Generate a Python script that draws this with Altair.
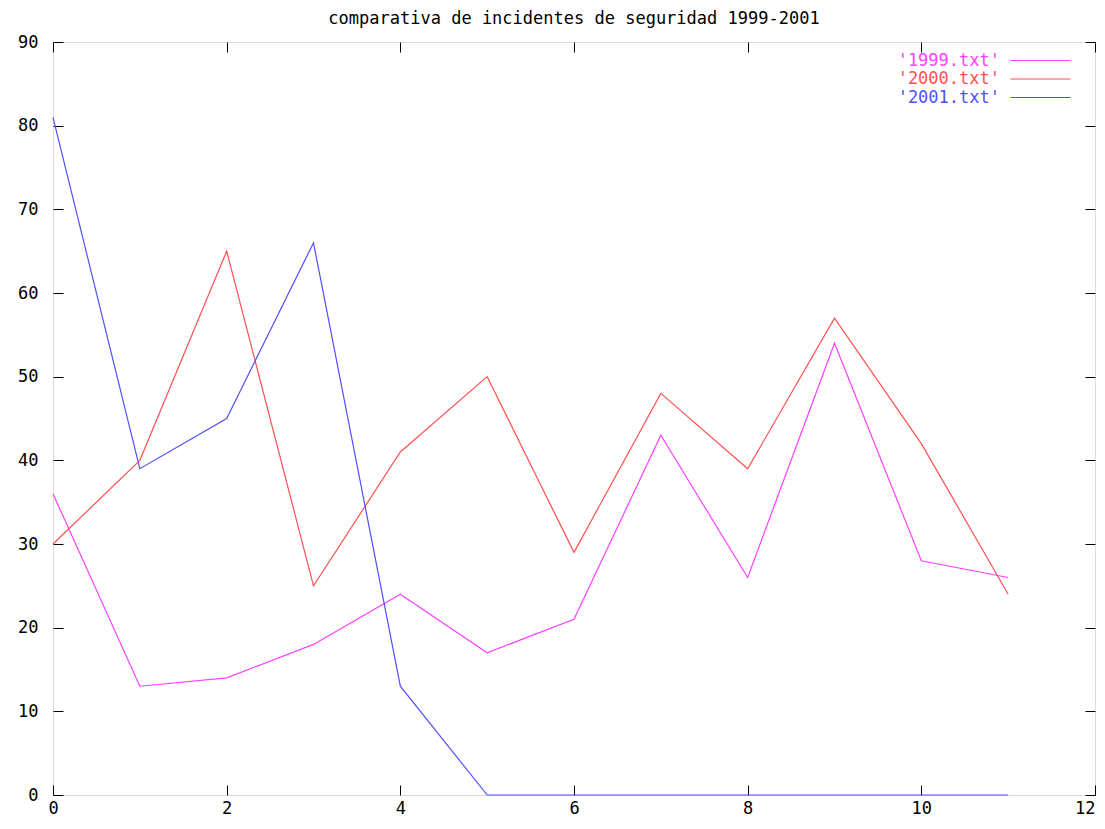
import altair as alt
import pandas as pd

# ---- data ----
x_vals = list(range(12))
s1999 = [36, 13, 14, 18, 24, 17, 21, 43, 26, 54, 28, 26]
s2000 = [30, 40, 65, 25, 41, 50, 29, 48, 39, 57, 42, 24]
s2001 = [81, 39, 45, 66, 13, 0, 0, 0, 0, 0, 0, 0]
series_names = ["'1999.txt'", "'2000.txt'", "'2001.txt'"]
series_colors = ["#ff40ff", "#ff5050", "#5050ff"]
x_ticks = [0, 2, 4, 6, 8, 10, 12]
y_ticks = [0, 10, 20, 30, 40, 50, 60, 70, 80, 90]
title_text = "comparativa de incidentes de seguridad 1999-2001"

rows = []
for name, vals in zip(series_names, [s1999, s2000, s2001]):
    for xv, yv in zip(x_vals, vals):
        rows.append({"x": xv, "valor": yv, "serie": name})
df = pd.DataFrame(rows)

FONT = "DejaVu Sans Mono"
FS = 17

xscale = alt.Scale(domain=[0, 12], nice=False, zero=False)
yscale = alt.Scale(domain=[0, 90], nice=False, zero=False)

color = alt.Color(
    "serie:N",
    scale=alt.Scale(domain=series_names, range=series_colors),
    legend=alt.Legend(
        title=None,
        orient="none",
        legendX=930,
        legendY=10,
        padding=0,
        symbolType="M5.08,0H21.13",
        symbolSize=56,
        symbolStrokeWidth=1.2,
        labelAlign="right",
        labelOffset=0,
        labelFont=FONT,
        labelFontSize=FS,
        labelColor=alt.ExprRef("scale('color', datum.value)"),
        rowPadding=0.5,
    ),
)

lines = alt.Chart(df).mark_line(strokeWidth=1.2).encode(
    x=alt.X(
        "x:Q",
        scale=xscale,
        axis=alt.Axis(
            orient="bottom", values=x_ticks, title=None, domain=False, grid=False,
            tickSize=10, offset=-10, labelPadding=5, labelFont=FONT, labelFontSize=FS,
            labelColor="black", tickColor="black", labelFlush=False,
            labelAlign={"condition": {"test": "datum.value == 12", "value": "right"},
                        "value": "center"},
        ),
    ),
    y=alt.Y(
        "valor:Q",
        scale=yscale,
        axis=alt.Axis(
            orient="left", values=y_ticks, title=None, domain=False, grid=False,
            tickSize=10, offset=-10, labelPadding=15, labelFont=FONT, labelFontSize=FS,
            labelColor="black", tickColor="black",
        ),
    ),
    color=color,
)

mirror = alt.Chart(df).mark_line(opacity=0).encode(
    x=alt.X(
        "x:Q",
        scale=xscale,
        axis=alt.Axis(
            orient="top", values=x_ticks, title=None, domain=False, grid=False,
            tickSize=10, offset=-10, labels=False, tickColor="black",
        ),
    ),
    y=alt.Y(
        "valor:Q",
        scale=yscale,
        axis=alt.Axis(
            orient="right", values=y_ticks, title=None, domain=False, grid=False,
            tickSize=10, offset=-10, labels=False, tickColor="black",
        ),
    ),
    detail="serie:N",
)

chart = (
    alt.layer(lines, mirror)
    .resolve_axis(x="independent", y="independent")
    .properties(
        width=1042,
        height=753,
        autosize="none",
        padding={"left": 45, "top": 34, "right": 2, "bottom": 22},
        title=alt.TitleParams(
            text=title_text, font=FONT, fontSize=FS, fontWeight="normal",
            color="black", anchor="middle", offset=5,
        ),
    )
    .configure_view(stroke="black", strokeWidth=1)
    .configure(background="white")
)

chart.save("out.html", embed_options={"renderer": "svg", "actions": False})
